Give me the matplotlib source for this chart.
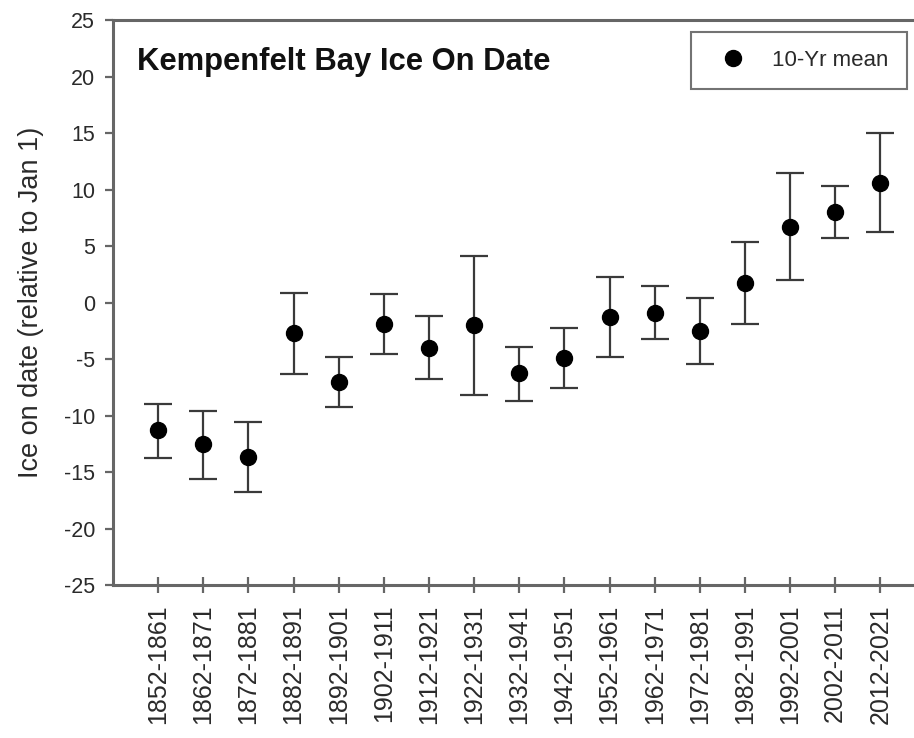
import matplotlib
matplotlib.use("Agg")
import matplotlib.pyplot as plt
import numpy as np

plt.rcParams['font.family'] = ['Liberation Sans', 'DejaVu Sans']

periods = ["1852-1861", "1862-1871", "1872-1881", "1882-1891", "1892-1901",
           "1902-1911", "1912-1921", "1922-1931", "1932-1941", "1942-1951",
           "1952-1961", "1962-1971", "1972-1981", "1982-1991", "1992-2001",
           "2002-2011", "2012-2021"]
mean_vals = [-11.3, -12.55, -13.7, -2.7, -7.0, -1.9, -4.0, -2.0, -6.27, -4.88,
             -1.25, -0.9, -2.49, 1.7, 6.71, 8.01, 10.6]
upper_vals = [-9.0, -9.57, -10.6, 0.87, -4.8, 0.75, -1.17, 4.14, -3.9, -2.26,
              2.3, 1.46, 0.43, 5.32, 11.43, 10.31, 15.03]
lower_vals = [-13.73, -15.59, -16.8, -6.3, -9.25, -4.53, -6.8, -8.16, -8.72, -7.6,
              -4.82, -3.26, -5.41, -1.93, 2.0, 5.71, 6.21]
yticks = [-25, -20, -15, -10, -5, 0, 5, 10, 15, 20, 25]

x = np.arange(len(periods))
m = np.array(mean_vals)
err = np.vstack([m - np.array(lower_vals), np.array(upper_vals) - m])

fig = plt.figure(figsize=(9.14, 7.38), dpi=100)
ax = fig.add_axes([0.1236, 0.2073, 0.889, 0.7656])

spine_col = '#666666'
ax.errorbar(x, m, yerr=err, fmt='none', ecolor='#3a3a3a', elinewidth=1.6,
            capsize=10, capthick=1.6, zorder=2)
ax.plot(x, m, 'o', color='black', markersize=11.5, linestyle='none',
        label='10-Yr mean', zorder=3)

ax.set_xlim(-1, 17)
ax.set_ylim(-25, 25)
ax.set_yticks(yticks)
ax.set_yticklabels([str(v) for v in yticks])
ax.set_xticks(x)
ax.set_xticklabels(periods, rotation=90)

for s in ['left', 'bottom', 'top']:
    ax.spines[s].set_color(spine_col)
    ax.spines[s].set_linewidth(2.2)
ax.spines['right'].set_visible(False)

ax.tick_params(axis='y', direction='out', length=6, width=1.6, color=spine_col,
               labelsize=15.5, labelcolor='#2a2a2a', pad=7)
ax.tick_params(axis='x', direction='inout', length=12, width=1.6, color=spine_col,
               labelsize=18, labelcolor='#2a2a2a', pad=8)

ax.set_ylabel('Ice on date (relative to Jan 1)', fontsize=19.5, color='#2a2a2a',
              labelpad=14)

ax.text(0.0295, 0.9257, 'Kempenfelt Bay Ice On Date', transform=ax.transAxes,
        fontsize=22.3, fontweight='bold', color='#111111', va='center', ha='left')

leg = ax.legend(loc='upper right', bbox_to_anchor=(0.9766, 0.9788), fontsize=16,
                frameon=True, fancybox=False, borderpad=0.81, borderaxespad=0,
                handlelength=2.16, handletextpad=0.68, markerscale=1.0)
leg.get_frame().set_edgecolor('#505050')
leg.get_frame().set_linewidth(1.5)
for t in leg.get_texts():
    t.set_color('#2a2a2a')

fig.savefig('out.png', dpi=100, facecolor='white')
